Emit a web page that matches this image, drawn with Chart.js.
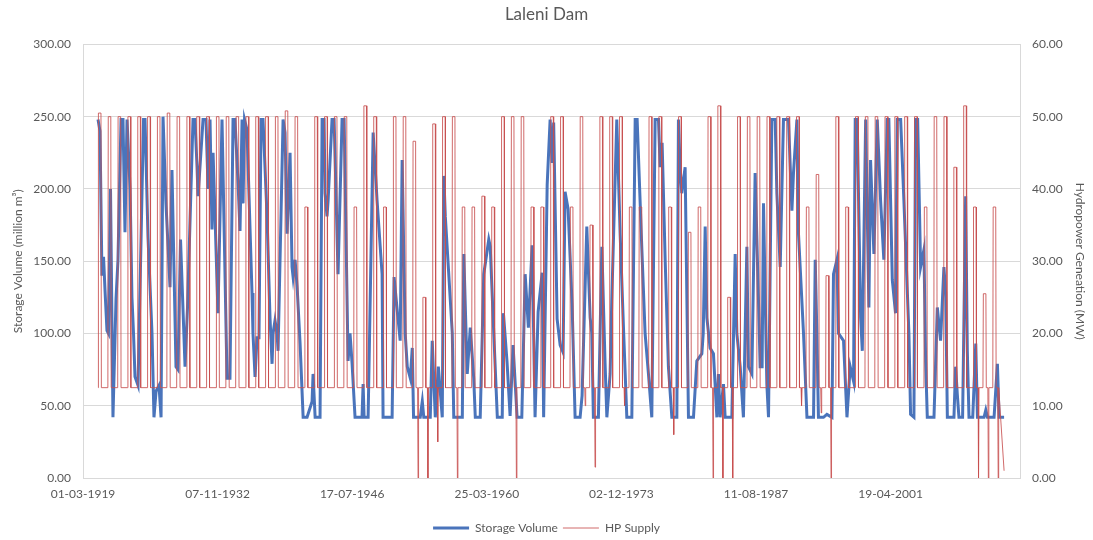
<!DOCTYPE html>
<html>
<head>
<meta charset="utf-8">
<script src="https://cdn.jsdelivr.net/npm/chart.js@4.4.1/dist/chart.umd.min.js"></script>
<style>
  html, body { margin: 0; padding: 0; background: #fff; }
</style>
</head>
<body>
<canvas id="damChart" width="1093" height="540"></canvas>
<script>
// x axis: day offsets from 01-03-1919 and their labels
const xTickDays = [0, 5000, 10000, 15000, 20000, 25000, 30000];
const xTickLabels = ["01-03-1919", "07-11-1932", "17-07-1946", "25-03-1960", "02-12-1973", "11-08-1987", "19-04-2001"];

// storage volume (million m3)
const storageYears = [1920.69,1920.89,1921.09,1921.25,1921.40,1921.60,1921.75,1921.96,1922.21,1922.52,1922.72,1923.03,1923.23,1923.43,1923.64,1923.95,1924.14,1924.30,1924.45,1924.76,1925.17,1925.32,1925.47,1925.77,1926.18,1926.38,1926.59,1926.89,1927.10,1927.30,1927.60,1928.01,1928.21,1928.62,1928.82,1929.08,1929.54,1929.79,1930.35,1930.55,1930.76,1930.86,1931.01,1931.37,1931.67,1931.88,1932.08,1932.28,1932.39,1932.89,1933.30,1933.40,1933.81,1934.11,1934.42,1934.62,1934.93,1935.13,1935.34,1935.44,1935.59,1935.84,1936.35,1936.45,1936.66,1936.86,1937.06,1937.27,1937.47,1937.88,1938.18,1938.39,1938.49,1938.69,1938.90,1939.00,1939.51,1939.71,1939.92,1940.22,1940.42,1940.53,1940.73,1940.94,1941.24,1941.55,1941.95,1942.46,1942.56,1942.77,1943.27,1943.48,1943.68,1943.78,1943.98,1944.09,1944.49,1944.70,1944.80,1945.10,1945.51,1945.72,1946.12,1946.32,1946.53,1946.83,1947.54,1947.65,1947.75,1948.16,1948.67,1949.07,1949.58,1949.68,1950.60,1950.80,1951.09,1951.42,1951.62,1951.93,1952.14,1952.45,1952.65,1952.78,1953.46,1953.67,1953.82,1954.48,1954.68,1954.99,1955.30,1955.70,1955.86,1956.01,1956.72,1956.87,1957.74,1957.89,1958.24,1958.55,1958.90,1959.06,1959.56,1959.92,1960.43,1960.58,1960.94,1961.30,1961.80,1961.92,1962.29,1962.60,1962.90,1963.31,1963.79,1964.13,1964.46,1964.84,1965.14,1965.45,1965.86,1966.01,1966.37,1966.67,1966.88,1967.03,1967.38,1967.69,1967.99,1968.19,1968.50,1968.91,1969.21,1969.72,1969.92,1970.40,1970.74,1970.91,1971.07,1971.58,1971.93,1972.26,1972.44,1972.77,1972.94,1973.45,1973.79,1974.13,1974.47,1974.98,1975.32,1975.52,1976.00,1976.33,1976.67,1977.01,1977.35,1977.69,1977.86,1978.06,1978.37,1978.70,1979.05,1979.56,1979.72,1979.89,1980.06,1980.40,1980.74,1981.25,1981.59,1982.10,1982.24,1982.44,1982.61,1982.94,1983.28,1983.63,1983.79,1983.96,1984.30,1984.47,1985.15,1985.49,1985.66,1986.00,1986.33,1986.68,1986.84,1987.19,1987.52,1987.86,1988.03,1988.23,1988.37,1988.71,1988.88,1989.22,1989.56,1989.73,1990.07,1990.40,1990.91,1991.26,1991.42,1991.77,1991.93,1992.44,1992.79,1993.46,1993.63,1993.80,1993.96,1994.47,1994.82,1995.33,1995.49,1995.84,1996.00,1996.51,1996.86,1997.19,1997.53,1997.70,1997.90,1998.25,1998.42,1998.76,1999.09,1999.26,1999.60,1999.94,2000.28,2000.61,2000.96,2001.12,2001.47,2001.80,2001.98,2002.32,2002.65,2003.16,2003.33,2003.67,2003.84,2004.05,2004.35,2004.69,2004.86,2005.03,2005.71,2006.05,2006.38,2006.72,2006.90,2007.07,2007.74,2007.91,2008.08,2008.25,2008.62,2008.93,2009.10,2009.27,2009.65,2009.96,2010.13,2010.80,2010.98,2011.15,2011.82,2012.16,2012.33,2012.84];
const storageValues = [248,240,140,153,130,102,100,200,42,124,151,248,248,170,248,200,125,100,70,64,200,248,248,167,100,42,60,64,42,250,190,132,213,77,75,165,77,118,248,248,215,195,210,248,248,200,248,172,225,114,248,248,69,69,248,248,204,171,248,190,248,241,128,100,70,97,97,248,248,181,111,79,100,109,100,88,248,239,169,225,146,139,151,132,93,42,42,53,72,42,42,248,248,197,181,192,248,248,222,141,248,248,81,100,79,42,42,65,42,42,239,192,141,42,42,139,118,95,220,100,77,69,90,42,42,53,42,42,95,42,77,42,209,181,100,42,42,155,72,104,69,42,42,141,165,160,100,42,42,114,80,43,92,42,42,141,104,161,42,115,142,42,203,248,218,246,110,92,87,198,186,119,42,42,57,174,111,100,42,42,160,79,42,72,123,248,169,104,42,42,248,248,158,100,72,42,248,248,215,232,151,77,42,42,248,215,197,215,42,42,81,86,100,174,111,90,86,42,72,42,65,42,42,155,100,77,42,160,77,72,211,123,77,77,190,65,42,248,248,197,146,248,248,185,211,248,169,100,42,42,151,100,42,42,44,42,141,151,100,95,42,77,67,248,248,111,88,248,118,220,155,248,192,151,248,248,137,114,248,248,192,100,44,42,248,248,146,158,81,42,42,118,95,146,128,42,42,77,58,42,42,195,88,42,42,93,42,42,47,42,42,79,42,42];

// HP supply (MW): one wet-season pulse per year starting at hpFirstSeason
const hpFirstSeason = 1920.69;
const hpBase = 12.5;
const hpPeak = [
  50.5, 50, 50, 50, 50, 50, 50, 50.5, 50, 50,
  50, 50, 50, 50, 50, 50, 50, 50, 50, 50.8,
  50, 37.5, 50, 50, 50, 50, 37.5, 51.5, 50, 37.5,
  50, 50, 46.6, 25, 49, 50, 50, 37.5, 37.5, 39,
  37.5, 50, 50, 50, 37.5, 37.5, 50, 50, 37.5, 50,
  35, 50, 50, 50, 37.5, 37.5, 50, 50, 37.5, 50,
  34, 37.5, 50, 51.5, 25, 50, 50, 50, 50, 50,
  50, 50, 37.5, 42, 28, 50, 37.5, 50, 50, 50,
  50, 50, 50, 50, 37.5, 50, 50, 43, 51.5, 37.5,
  25.5, 37.5
];
// lowest dry-season supply in each year
const hpDip = [
  12.5, 12.5, 12.5, 12.5, 12.5, 12.5, 12.5, 12.5, 12.5, 12.5,
  12.5, 12.5, 12.5, 12.5, 12.5, 12.5, 12.5, 12.5, 12.5, 12.5,
  12.5, 12.5, 12.5, 12.5, 12.5, 12.5, 12.5, 12.5, 12.5, 12.5,
  12.5, 12.5, 0, 0, 5, 12.5, 0, 12.5, 12.5, 12.5,
  12.5, 12.5, 0, 12.5, 12.5, 12.5, 12.5, 12.5, 12.5, 10,
  1.5, 12.5, 12.5, 10, 12.5, 12.5, 12.5, 12.5, 6, 12.5,
  12.5, 12.5, 0, 0, 0, 12.5, 12.5, 12.5, 12.5, 12.5,
  12.5, 10, 12.5, 9, 0, 12.5, 12.5, 12.5, 12.5, 12.5,
  12.5, 12.5, 12.5, 12.5, 12.5, 12.5, 12.5, 12.5, 12.5, 0,
  0, 0
];
const hpEnd = [2012.84, 1];

const START = 1919 + 59 / 365; // 01-03-1919
const toDay = (yr) => (yr - START) * 365.25;

const storagePoints = storageYears.map((yr, i) => ({ x: toDay(yr), y: storageValues[i] }));

const hpPoints = [];
hpPeak.forEach((peak, k) => {
  const t = hpFirstSeason + k;
  hpPoints.push({ x: toDay(t), y: hpBase });
  hpPoints.push({ x: toDay(t + 0.04), y: peak });
  hpPoints.push({ x: toDay(t + 0.30), y: peak });
  hpPoints.push({ x: toDay(t + 0.34), y: hpBase });
  if (hpDip[k] < hpBase) {
    hpPoints.push({ x: toDay(t + 0.5), y: hpBase });
    hpPoints.push({ x: toDay(t + 0.55), y: hpDip[k] });
    hpPoints.push({ x: toDay(t + 0.6), y: hpBase });
  }
});
hpPoints.push({ x: toDay(hpEnd[0]), y: hpEnd[1] });

const FONT = "Lato, 'Open Sans', sans-serif";
const TEXT = "#595959";
const GRID = "#d9d9d9";

new Chart(document.getElementById("damChart"), {
  type: "line",
  data: {
    datasets: [
      {
        label: "Storage Volume",
        data: storagePoints,
        borderColor: "#4a74bb",
        backgroundColor: "#4a74bb",
        borderWidth: 3,
        pointRadius: 0,
        tension: 0,
        yAxisID: "y",
        order: 1,
      },
      {
        label: "HP Supply",
        data: hpPoints,
        borderColor: "rgba(200,80,80,0.85)",
        backgroundColor: "rgba(200,80,80,0.85)",
        borderWidth: 1,
        pointRadius: 0,
        tension: 0,
        yAxisID: "y1",
        order: 0,
      },
    ],
  },
  options: {
    responsive: false,
    animation: false,
    layout: { padding: { left: 0, right: 0, top: 0, bottom: -4 } },
    plugins: {
      title: {
        display: true,
        text: "Laleni Dam",
        color: TEXT,
        font: { family: FONT, size: 17, weight: "normal" },
        padding: { top: 4, bottom: 20 },
      },
      legend: {
        position: "bottom",
        labels: {
          usePointStyle: true,
          pointStyle: "line",
          pointStyleWidth: 36,
          color: TEXT,
          font: { family: FONT, size: 12 },
          padding: 5,
          sort: (a, b) => a.datasetIndex - b.datasetIndex,
        },
      },
      tooltip: { enabled: false },
    },
    scales: {
      x: {
        type: "linear",
        min: 0,
        max: 34807,
        afterBuildTicks: (s) => { s.ticks = xTickDays.map((v) => ({ value: v })); },
        ticks: {
          autoSkip: false,
          maxRotation: 0,
          color: TEXT,
          font: { family: FONT, size: 12 },
          padding: 9,
          callback: (v) => {
            const i = xTickDays.indexOf(v);
            return i >= 0 ? xTickLabels[i] : "";
          },
        },
        grid: { display: false, drawTicks: false },
        border: { display: true, color: GRID },
        afterFit: (s) => { s.height = 39; },
      },
      y: {
        position: "left",
        min: 0,
        max: 300,
        ticks: {
          stepSize: 50,
          color: TEXT,
          font: { family: FONT, size: 12 },
          padding: 12,
          callback: (v) => v.toFixed(2),
        },
        grid: { color: GRID, drawTicks: false },
        border: { display: true, color: GRID },
        title: {
          display: true,
          text: "Storage Volume (million m\u00B3)",
          color: TEXT,
          font: { family: FONT, size: 12 },
          padding: { top: 11, bottom: 0 },
        },
        afterFit: (s) => { s.width = 83; },
      },
      y1: {
        position: "right",
        min: 0,
        max: 60,
        ticks: {
          stepSize: 10,
          color: TEXT,
          font: { family: FONT, size: 12 },
          padding: 12,
          callback: (v) => v.toFixed(2),
        },
        grid: { display: false, drawTicks: false },
        border: { display: true, color: GRID },
        title: {
          display: true,
          text: "Hydropower Geneation (MW)",
          color: TEXT,
          font: { family: FONT, size: 12 },
          padding: { top: 6, bottom: 0 },
        },
        afterFit: (s) => { s.width = 73; },
      },
    },
  },
});
</script>
</body>
</html>
